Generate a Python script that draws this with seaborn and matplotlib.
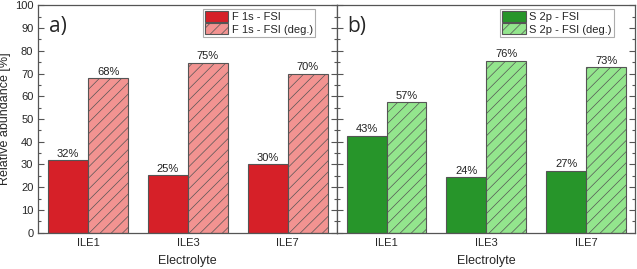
import pandas as pd
import numpy as np
import matplotlib
matplotlib.use("Agg")
import matplotlib.pyplot as plt
import seaborn as sns
from matplotlib.ticker import MultipleLocator
from matplotlib.patches import Patch

# data
electrolytes = ["ILE1", "ILE3", "ILE7"]
f1s_fsi = [32.0, 25.3, 30.0]
f1s_fsi_deg = [68.0, 74.7, 70.0]
s2p_fsi = [42.6, 24.3, 27.2]
s2p_fsi_deg = [57.4, 75.7, 72.8]

sns.set_style("ticks")
plt.rcParams['font.family'] = ['Liberation Sans', 'DejaVu Sans']
plt.rcParams['hatch.linewidth'] = 0.5
plt.rcParams['hatch.color'] = '#555555'

fig, axes = plt.subplots(1, 2, figsize=(6.37, 2.69), dpi=100, sharey=True)
fig.subplots_adjust(left=0.06, right=0.997, top=0.98, bottom=0.135, wspace=0)

panels = [
    (axes[0], f1s_fsi, f1s_fsi_deg, "F 1s - FSI", "#d62028", "#f29391", "a)"),
    (axes[1], s2p_fsi, s2p_fsi_deg, "S 2p - FSI", "#27952a", "#93e58d", "b)"),
]

for ax, plain, deg, name, c1, c2, tag in panels:
    df = pd.DataFrame({
        "Electrolyte": electrolytes * 2,
        "value": plain + deg,
        "series": [name] * 3 + [name + " (deg.)"] * 3,
    })
    sns.barplot(data=df, x="Electrolyte", y="value", hue="series",
                palette=[c1, c2], width=0.8, edgecolor="#555555",
                linewidth=0.8, saturation=1, ax=ax, legend=False)
    for i, cont in enumerate(ax.containers):
        if i == 1:
            for p in cont:
                p.set_hatch("///")
        vals = plain if i == 0 else deg
        ax.bar_label(cont, labels=[f"{v:.0f}%" for v in vals],
                     padding=1, fontsize=8, color="#222222")
    handles = [Patch(facecolor=c1, edgecolor="#555555", linewidth=0.8),
               Patch(facecolor=c2, edgecolor="#555555", linewidth=0.8, hatch="///")]
    leg = ax.legend(handles, [name, name + " (deg.)"], loc="upper right",
                    bbox_to_anchor=(0.928, 0.985), borderaxespad=0,
                    fontsize=8, frameon=True, fancybox=False,
                    handlelength=2.1, handleheight=1.15, handletextpad=0.3,
                    borderpad=0.2, labelspacing=0.1)
    leg.get_frame().set_edgecolor("#999999")
    leg.get_frame().set_linewidth(0.8)
    ax.text(0.035, 0.955, tag, transform=ax.transAxes, fontsize=15,
            family=['Open Sans', 'DejaVu Sans'], va="top")
    ax.set_xlim(-0.5, 2.49)
    ax.set_ylim(0, 100)
    ax.set_xlabel("Electrolyte", fontsize=9, labelpad=5)
    ax.set_ylabel("")
    ax.tick_params(axis="x", length=0, labelsize=8, pad=4)
    ax.tick_params(axis="y", which="both", direction="in", left=True, right=True,
                   labelsize=8, width=0.8, color="#555555")
    ax.tick_params(axis="y", which="major", length=4)
    ax.tick_params(axis="y", which="minor", length=2)
    ax.yaxis.set_major_locator(MultipleLocator(10))
    ax.yaxis.set_minor_locator(MultipleLocator(5))
    for s in ax.spines.values():
        s.set_visible(True)
        s.set_linewidth(0.9)
        s.set_color("#555555")

axes[1].tick_params(axis="y", labelleft=False)
axes[0].set_ylabel("Relative abundance [%]", fontsize=9, labelpad=3)

fig.savefig("out.png", dpi=100)
